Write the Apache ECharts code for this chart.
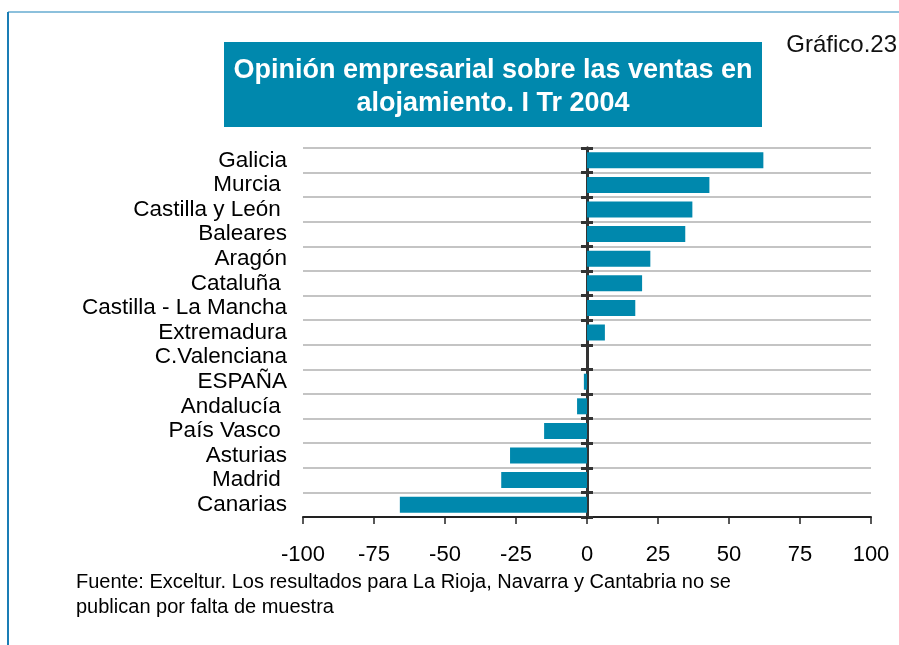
<!DOCTYPE html>
<html>
<head>
<meta charset="utf-8">
<script src="https://cdn.jsdelivr.net/npm/echarts@6/dist/echarts.min.js"></script>
<style>
  html, body { margin: 0; padding: 0; background: #fff; }
  #chart { width: 899px; height: 645px; }
</style>
</head>
<body>
<div id="chart"></div>
<script>
// datos
const regiones = ['Galicia', 'Murcia ', 'Castilla y León ', 'Baleares', 'Aragón', 'Cataluña ',
  'Castilla - La Mancha', 'Extremadura', 'C.Valenciana', 'ESPAÑA', 'Andalucía ',
  'País Vasco ', 'Asturias', 'Madrid ', 'Canarias'];
const saldo = [62.1, 43.1, 37.1, 34.6, 22.3, 19.4, 17.0, 6.3, 0, -1.1, -3.5, -15.1, -27.1, -30.2, -65.9];
const titulo = ['Opinión empresarial sobre las ventas en', 'alojamiento. I Tr 2004'];
const fuente = ['Fuente: Exceltur. Los resultados para La Rioja, Navarra y Cantabria no se',
  'publican por falta de muestra'];

const azul = '#0088ad';
const font = '"Liberation Sans", Arial, sans-serif';

const chart = echarts.init(document.getElementById('chart'));

// eje de categorías auxiliar para la línea del cero (ticks a ambos lados)
const ejeCero = (inside) => ({
  type: 'category',
  inverse: true,
  data: regiones,
  position: 'left',
  axisLine: { show: true, onZero: true, onZeroAxisIndex: 0, lineStyle: { color: '#333', width: 3 } },
  axisTick: { show: true, inside: inside, interval: 0, length: 6, lineStyle: { color: '#333', width: 3 } },
  axisLabel: { show: false, interval: 0 },
  splitLine: { show: false }
});

chart.setOption({
  animation: false,
  textStyle: { fontFamily: font },
  grid: { left: 303, right: 28, top: 148, bottom: 128, containLabel: false },
  xAxis: {
    type: 'value',
    min: -100,
    max: 100,
    interval: 25,
    axisLine: { show: true, onZero: false, lineStyle: { color: '#222', width: 2 } },
    axisTick: { show: true, length: 7, lineStyle: { color: '#222', width: 1.5 } },
    axisLabel: { fontSize: 22, color: '#000', margin: 27, fontFamily: font },
    splitLine: { show: false }
  },
  yAxis: [
    {
      type: 'category',
      inverse: true,
      data: regiones,
      axisLine: { show: false, onZero: false },
      axisTick: { show: false, interval: 0 },
      axisLabel: { fontSize: 22.5, color: '#000', margin: 16, interval: 0, padding: [5, 0, 0, 0], fontFamily: font },
      splitLine: { show: true, interval: 0, lineStyle: { color: '#c4c4c4', width: 2 } }
    },
    ejeCero(false),
    ejeCero(true)
  ],
  series: [{
    type: 'bar',
    yAxisIndex: 0,
    data: saldo,
    barWidth: 16,
    itemStyle: { color: azul },
    z: 1
  }],
  graphic: [
    // marco
    { type: 'line', shape: { x1: 8, y1: 12, x2: 899, y2: 12 }, style: { stroke: '#8cc0dc', lineWidth: 2 } },
    { type: 'line', shape: { x1: 8, y1: 12, x2: 8, y2: 645 }, style: { stroke: '#1a7db5', lineWidth: 2 } },
    // título
    { type: 'rect', shape: { x: 224, y: 42, width: 538, height: 85 }, style: { fill: azul } },
    { type: 'text', x: 493, y: 71, style: { text: titulo[0], fill: '#fff', font: 'bold 27px ' + font, align: 'center', verticalAlign: 'middle' } },
    { type: 'text', x: 493, y: 104, style: { text: titulo[1], fill: '#fff', font: 'bold 27px ' + font, align: 'center', verticalAlign: 'middle' } },
    { type: 'text', x: 897, y: 45, style: { text: 'Gráfico.23', fill: '#111', font: '24px ' + font, align: 'right', verticalAlign: 'middle' } },
    // fuente
    { type: 'text', x: 76, y: 582, style: { text: fuente[0], fill: '#000', font: '20px ' + font, verticalAlign: 'middle' } },
    { type: 'text', x: 76, y: 607, style: { text: fuente[1], fill: '#000', font: '20px ' + font, verticalAlign: 'middle' } }
  ]
});
</script>
</body>
</html>
